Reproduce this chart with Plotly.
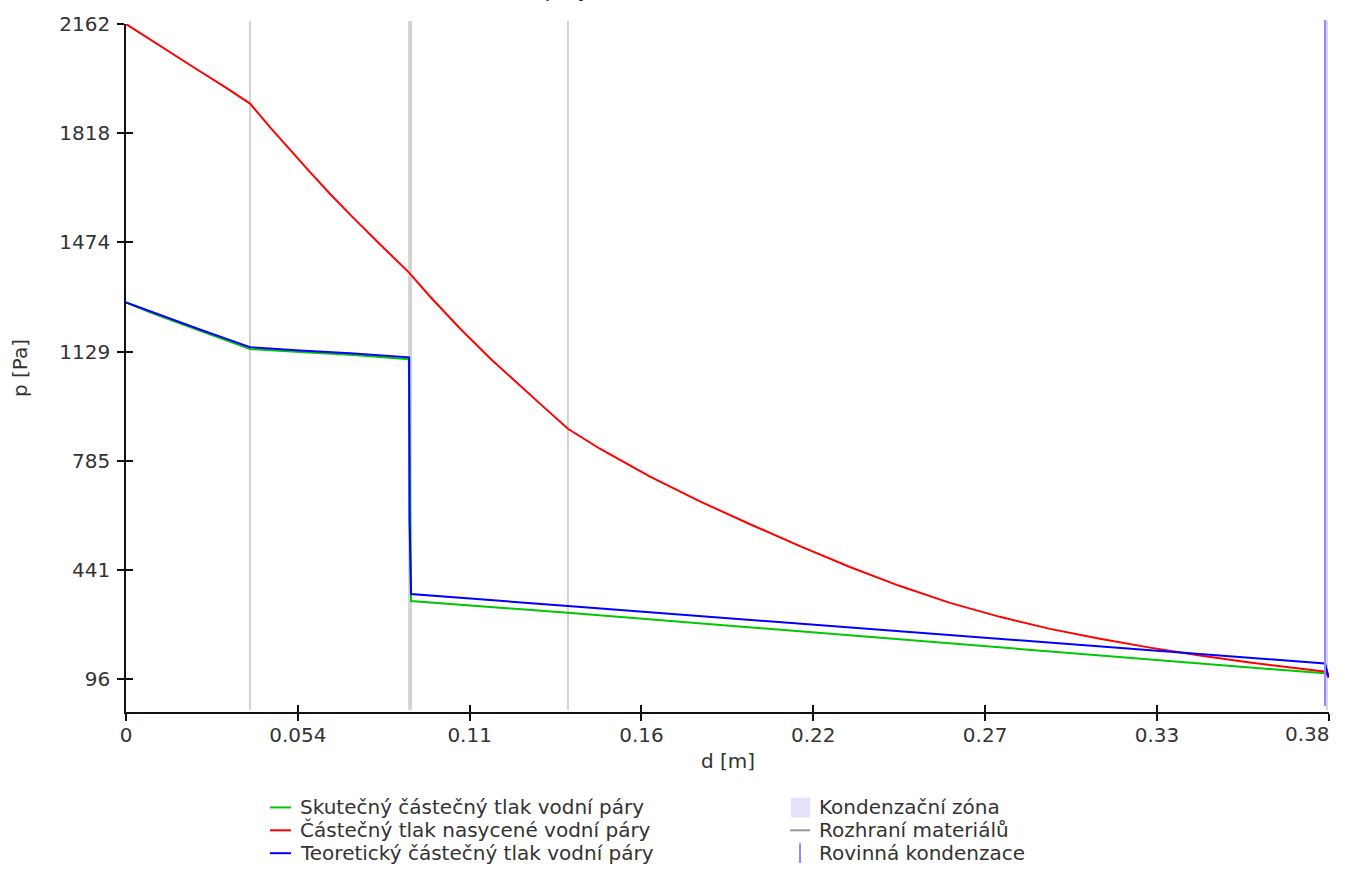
import plotly.graph_objects as go

# ---------------- data ----------------
D_MAX = 0.381
x_tick_labels = ["0", "0.054", "0.11", "0.16", "0.22", "0.27", "0.33", "0.38"]
y_tick_labels = [96, 441, 785, 1129, 1474, 1818, 2162]
Y_MIN = -7

# Částečný tlak nasycené vodní páry (red)
sat_x = [0.0, 0.0076, 0.0155, 0.0234, 0.0314, 0.0393, 0.0456, 0.0519, 0.0583, 0.0646,
         0.0710, 0.0805, 0.0896, 0.0963, 0.1058, 0.1153, 0.1248, 0.1327, 0.1400, 0.1501,
         0.1660, 0.1818, 0.1977, 0.2135, 0.2293, 0.2452, 0.2610, 0.2768, 0.2927, 0.3085,
         0.3244, 0.3402, 0.3560, 0.3719, 0.3801, 0.3810]
sat_p = [2162, 2113, 2063, 2013, 1963, 1911, 1837, 1765, 1695, 1627,
         1561, 1467, 1379, 1303, 1202, 1108, 1021, 951, 886, 823,
         735, 657, 585, 516, 450, 390, 337, 293, 255, 224,
         196, 171, 149, 130, 120, 102]

# Teoretický částečný tlak vodní páry (blue)
theo_x = [0.0, 0.0076, 0.0155, 0.0234, 0.0314, 0.0393, 0.0551, 0.0710, 0.0897, 0.0898,
          0.0903, 0.1400, 0.3798, 0.3810]
theo_p = [1284, 1256, 1228, 1199, 1171, 1143, 1133, 1124, 1111, 603,
          365, 327, 146, 102]

# Skutečný částečný tlak vodní páry (green)
act_x = [0.0, 0.0076, 0.0155, 0.0234, 0.0314, 0.0393, 0.0551, 0.0710, 0.0896, 0.0903,
         0.1400, 0.3807]
act_p = [1284, 1253, 1224, 1195, 1166, 1137, 1128, 1119, 1105, 343,
         306, 114]

material_boundaries = [0.0393, 0.0897, 0.0903, 0.1400, 0.3804]
condensation_planes = [0.3798]

# legend labels
series_names = ["Skutečný částečný tlak vodní páry",
                "Částečný tlak nasycené vodní páry",
                "Teoretický částečný tlak vodní páry"]
extra_names = ["Kondenzační zóna", "Rozhraní materiálů", "Rovinná kondenzace"]
title_text = "Průběh tlaků vodní páry"
x_title = "d [m]"
y_title = "p [Pa]"

# ---------------- styles ----------------
GREEN = "#00c800"
RED = "#ff0000"
BLUE = "#0000ff"
GREY = "#d2d2d2"
COND = "#8c8cff"
ZONE = "#e2e2fc"
TXT = "#333333"
FONT = "DejaVu Sans"
FS = 20

W, H = 1345, 870
ML, MR, MT, MB = 126, 16, 20, 158
PW, PH = W - ML - MR, H - MT - MB


def px(xp):
    return (xp - ML) / PW


def py(yp):
    return (H - MB - yp) / PH


fig = go.Figure()
for xs, ys, name, col in [(act_x, act_p, series_names[0], GREEN),
                          (sat_x, sat_p, series_names[1], RED),
                          (theo_x, theo_p, series_names[2], BLUE)]:
    fig.add_trace(go.Scatter(x=xs, y=ys, mode="lines", name=name,
                             line=dict(color=col, width=2), showlegend=False,
                             hoverinfo="x+y+name"))

# empty traces for the overlay axes (crossing ticks)
fig.add_trace(go.Scatter(x=[], y=[], xaxis="x2", yaxis="y", showlegend=False))
fig.add_trace(go.Scatter(x=[], y=[], xaxis="x", yaxis="y2", showlegend=False))

shapes = []
for b in material_boundaries:
    shapes.append(dict(type="line", xref="x", yref="paper", x0=b, x1=b,
                       y0=py(710), y1=py(17), line=dict(color=GREY, width=2),
                       layer="below"))
for c in condensation_planes:
    shapes.append(dict(type="line", xref="x", yref="paper", x0=c, x1=c,
                       y0=py(706), y1=py(16), line=dict(color=COND, width=2)))

# manual legend
annotations = []
rows = [808, 831, 854]
for (name, col), r in zip([(series_names[0], GREEN), (series_names[1], RED),
                           (series_names[2], BLUE)], rows):
    shapes.append(dict(type="line", xref="paper", yref="paper",
                       x0=px(270), x1=px(291), y0=py(r), y1=py(r),
                       line=dict(color=col, width=2)))
    annotations.append(dict(xref="paper", yref="paper", x=px(298), y=py(r),
                            xanchor="left", yanchor="middle", showarrow=False,
                            text=name, font=dict(family=FONT, size=FS, color=TXT)))
shapes.append(dict(type="rect", xref="paper", yref="paper",
                   x0=px(791), x1=px(810), y0=py(798), y1=py(818),
                   fillcolor=ZONE, line=dict(width=0)))
shapes.append(dict(type="line", xref="paper", yref="paper",
                   x0=px(790), x1=px(810), y0=py(831), y1=py(831),
                   line=dict(color="#999999", width=2)))
shapes.append(dict(type="line", xref="paper", yref="paper",
                   x0=px(800), x1=px(800), y0=py(844), y1=py(864),
                   line=dict(color=COND, width=2)))
for name, r in zip(extra_names, rows):
    annotations.append(dict(xref="paper", yref="paper", x=px(817), y=py(r),
                            xanchor="left", yanchor="middle", showarrow=False,
                            text=name, font=dict(family=FONT, size=FS, color=TXT)))

# axis titles and (mostly off-screen) title
annotations.append(dict(xref="paper", yref="paper", x=0.5, y=py(761),
                        xanchor="center", yanchor="middle", showarrow=False,
                        text=x_title, font=dict(family=FONT, size=FS, color=TXT)))
annotations.append(dict(xref="paper", yref="paper", x=px(20), y=0.5,
                        xanchor="center", yanchor="middle", showarrow=False,
                        textangle=-90, text=y_title,
                        font=dict(family=FONT, size=FS, color=TXT)))
annotations.append(dict(xref="paper", yref="paper", x=px(470), y=py(0),
                        xanchor="center", yanchor="bottom", showarrow=False,
                        text=title_text, font=dict(family=FONT, size=FS, color="#222")))

x_tickvals = [k * D_MAX / 7 for k in range(len(x_tick_labels))]
X_RANGE = [0, D_MAX * 1.0002]
# last tick label is kept inside the figure: right-aligned to its tick
x_ticktext = x_tick_labels[:-1] + [""]
annotations.append(dict(xref="x", yref="paper", x=x_tickvals[-1], y=py(734),
                        xanchor="right", yanchor="middle", showarrow=False,
                        xshift=3, text=x_tick_labels[-1],
                        font=dict(family=FONT, size=FS, color=TXT)))

axis_common = dict(showgrid=False, zeroline=False, showline=True,
                   linecolor="#111", linewidth=1.5, ticks="outside",
                   ticklen=7, tickwidth=1.5, tickcolor="#111",
                   tickfont=dict(family=FONT, size=FS, color=TXT))

fig.update_layout(
    width=W, height=H,
    margin=dict(l=ML, r=MR, t=MT, b=MB, pad=0),
    paper_bgcolor="white", plot_bgcolor="white",
    showlegend=False,
    font=dict(family=FONT, color=TXT),
    xaxis=dict(range=X_RANGE, tickmode="array", tickvals=x_tickvals,
               ticktext=x_ticktext, ticklabelstandoff=-3, **axis_common),
    yaxis=dict(range=[Y_MIN, max(y_tick_labels)], tickmode="array",
               tickvals=y_tick_labels, ticktext=[str(v) for v in y_tick_labels],
               ticklabelstandoff=3, **axis_common),
    xaxis2=dict(overlaying="x", anchor="y", side="bottom", matches="x",
                showgrid=False, zeroline=False, showline=False,
                tickmode="array", tickvals=x_tickvals, showticklabels=False,
                ticks="inside", ticklen=7, tickwidth=1.5, tickcolor="#111"),
    yaxis2=dict(overlaying="y", anchor="x", side="left", matches="y",
                showgrid=False, zeroline=False, showline=False,
                tickmode="array", tickvals=y_tick_labels, showticklabels=False,
                ticks="inside", ticklen=7, tickwidth=1.5, tickcolor="#111"),
    shapes=shapes,
    annotations=annotations,
)

fig.write_html("out.html", include_plotlyjs=True,
               config={"displayModeBar": False},
               post_script="document.body.style.margin='0';document.body.style.overflow='hidden';")
